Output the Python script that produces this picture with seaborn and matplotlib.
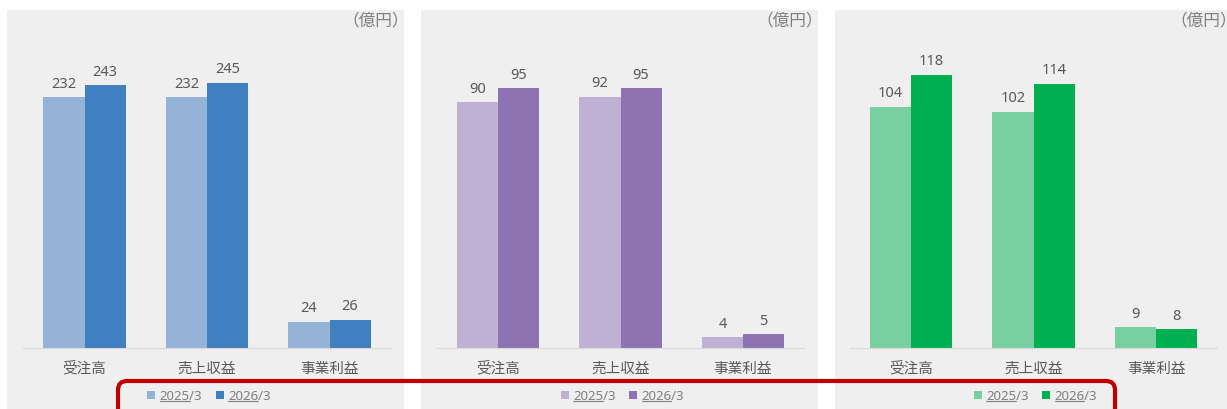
import numpy as np
import pandas as pd
import matplotlib
matplotlib.use('Agg')
import matplotlib.pyplot as plt
import seaborn as sns
from matplotlib.patches import Rectangle, FancyBboxPatch, Patch
from matplotlib.lines import Line2D
from matplotlib.transforms import IdentityTransform

# ---------------- data ----------------
categories = ['受注高', '売上収益', '事業利益']
years = ['2025/3', '2026/3']
panel1_2025 = [232, 232, 24]
panel1_2026 = [243, 245, 26]
panel2_2025 = [90, 92, 4]
panel2_2026 = [95, 95, 5]
panel3_2025 = [104, 102, 9]
panel3_2026 = [118, 114, 8]
unit_label = '（億円）'

palettes = [
    ['#95b3d7', '#4080c1'],
    ['#bfb1d3', '#8e73b2'],
    ['#78d0a1', '#00b050'],
]

sns.set_theme(style='white')
plt.rcParams['font.family'] = ['Noto Sans', 'Noto Sans CJK JP', 'DejaVu Sans']

W, H = 1227, 409
fig = plt.figure(figsize=(W / 100, H / 100), dpi=100)
fig.patch.set_facecolor('white')

def fx(px):
    return px / W

def fy(py):
    return 1 - py / H

bg_left = [7, 421, 835]
bg_w = 397
ax_left = [23.25, 436.75, 849.75]
ax_w = 367.5
ax_top, ax_base = 30, 348
ylim_top = [294, 116.4, 137.2]

data = [(panel1_2025, panel1_2026), (panel2_2025, panel2_2026), (panel3_2025, panel3_2026)]

text_col = '#595959'
legends = []
for i, (v25, v26) in enumerate(data):
    # panel background
    fig.add_artist(Rectangle((fx(bg_left[i]), fy(420)), bg_w / W, (420 - 10) / H,
                             transform=fig.transFigure, facecolor='#efefef',
                             edgecolor='none', zorder=-5))
    ax = fig.add_axes([fx(ax_left[i]), fy(ax_base), ax_w / W, (ax_base - ax_top) / H])
    ax.set_facecolor('none')
    df = pd.DataFrame({
        'cat': categories * 2,
        'year': [years[0]] * 3 + [years[1]] * 3,
        'val': list(v25) + list(v26),
    })
    sns.barplot(data=df, x='cat', y='val', hue='year', hue_order=years,
                order=categories, palette=palettes[i], width=0.67,
                saturation=1, ax=ax, legend=False, errorbar=None,
                linewidth=0, edgecolor='none')
    for cont in ax.containers:
        ax.bar_label(cont, fmt='%d', padding=4, fontsize=10.5, color=text_col)
    ax.set_xlim(-0.5, 2.5)
    ax.set_ylim(0, ylim_top[i])
    ax.set_xlabel('')
    ax.set_ylabel('')
    ax.set_yticks([])
    ax.tick_params(axis='x', length=0, pad=10, labelsize=10.5, labelcolor=text_col)
    for s in ['top', 'left', 'right']:
        ax.spines[s].set_visible(False)
    ax.spines['bottom'].set_color('#d9d9d9')
    ax.spines['bottom'].set_linewidth(0.8)

    fig.text(fx(bg_left[i] + bg_w + 5), fy(21), unit_label, ha='right', va='center',
             fontsize=12, color='#7f7f7f')

    handles = [Patch(facecolor=c, edgecolor='none') for c in palettes[i]]
    leg = fig.legend(handles, years, loc='center',
                     bbox_to_anchor=(fx(ax_left[i] + ax_w / 2 + 2), fy(396)),
                     ncol=2, frameon=False, handlelength=0.6, handleheight=0.6,
                     handletextpad=0.35, columnspacing=1.0, fontsize=9.5,
                     labelcolor='#7f7f7f', borderaxespad=0, borderpad=0)
    legends.append(leg)

# red highlight box
fig.add_artist(FancyBboxPatch((118, H - 425), 1115 - 118, 425 - 381,
                              boxstyle='round,pad=0,rounding_size=9',
                              transform=IdentityTransform(), facecolor='none',
                              edgecolor='#c00000', linewidth=3, zorder=10))

# underline the year part of the legend labels
fig.canvas.draw()
renderer = fig.canvas.get_renderer()
for leg in legends:
    for t in leg.get_texts():
        bb = t.get_window_extent(renderer)
        x0 = bb.x0
        x1 = bb.x0 + 0.70 * bb.width
        y = bb.y0 + 2
        fig.add_artist(Line2D([x0, x1], [y, y], transform=IdentityTransform(),
                              color='#7f7f7f', linewidth=0.8, zorder=6))

fig.savefig('out.png', dpi=100)
